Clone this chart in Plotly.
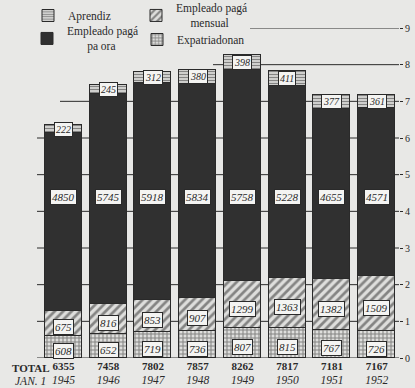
import plotly.graph_objects as go

# Employees by category on January 1 of each year (headcount)
years = ["1945", "1946", "1947", "1948", "1949", "1950", "1951", "1952"]
totals = [6355, 7458, 7802, 7857, 8262, 7817, 7181, 7167]
expatriadonan = [608, 652, 719, 736, 807, 815, 767, 726]
empleado_mensual = [675, 816, 853, 907, 1299, 1363, 1382, 1509]
empleado_pa_ora = [4850, 5745, 5918, 5834, 5758, 5228, 4655, 4571]
aprendiz = [222, 245, 312, 380, 398, 411, 377, 361]
axis_thousands = list(range(10))

BG = "#e8e8e6"
INK = "#2a2a2a"
LIGHT = "#dededc"
SERIF = "Liberation Serif"

W, H = 415, 388
M_L, M_R, M_T, M_B = 41, 16, 28, 30
PLOT_W = W - M_L - M_R
PLOT_H = H - M_T - M_B

xs = list(range(len(years)))
BAR_W = 0.83
HOURLY_LABEL_LEVEL = 4400
NB = "\u00a0"

def px_x(p):
    return (p - M_L) / PLOT_W

def px_y(p):
    return 1 + (M_T - p) / PLOT_H

fig = go.Figure()

# (name, values, pattern, legend id, legend box top-left in pixels)
series = [
    ("Expatriadonan", expatriadonan,
     dict(shape="+", size=4, solidity=0.45, fgcolor=INK, bgcolor=LIGHT),
     "legend4", (137, 25)),
    ("Empleado pagá<br>" + NB * 5 + "mensual", empleado_mensual,
     dict(shape="/", size=6, solidity=0.45, fgcolor=INK, bgcolor=LIGHT),
     "legend2", (136, -6)),
    ("Empleado pagá<br>" + NB * 7 + "pa ora", empleado_pa_ora, None,
     "legend3", (27, 17)),
    ("Aprendiz", aprendiz,
     dict(shape="-", size=3, solidity=0.45, fgcolor=INK, bgcolor=LIGHT),
     "legend", (28, 1)),
]

legend_layouts = {}
for name, vals, pattern, leg, (lx, ly) in series:
    marker = dict(color="#303030" if pattern is None else LIGHT,
                  line=dict(color=INK, width=1))
    if pattern is not None:
        marker["pattern"] = pattern
    fig.add_trace(go.Bar(
        x=xs, y=vals, name=name, width=BAR_W, marker=marker,
        legend=leg, hoverinfo="skip",
    ))
    legend_layouts[leg] = dict(
        x=px_x(lx), xanchor="left", y=px_y(ly), yanchor="top",
        bgcolor="rgba(0,0,0,0)", borderwidth=0,
        font=dict(family=SERIF, size=11.5, color=INK), valign="middle",
        itemclick=False, itemdoubleclick=False,
    )

# Value boxes on each segment
bottoms_month = expatriadonan
bottoms_appr = [a + b + c for a, b, c in zip(expatriadonan, empleado_mensual, empleado_pa_ora)]

box = dict(bgcolor="#f4f4f2", bordercolor=INK, borderwidth=1, borderpad=1,
           showarrow=False, font=dict(family=SERIF, size=11, color=INK, style="italic"))

for i in xs:
    fig.add_annotation(x=i, y=expatriadonan[i] / 2, yshift=-4,
                       text=str(expatriadonan[i]), **box)
    fig.add_annotation(x=i, y=bottoms_month[i] + empleado_mensual[i] / 2, yshift=-4,
                       text=str(empleado_mensual[i]), **box)
    fig.add_annotation(x=i, y=HOURLY_LABEL_LEVEL, text=str(empleado_pa_ora[i]), **box)
    fig.add_annotation(x=i, y=bottoms_appr[i] + aprendiz[i] / 2,
                       text=str(aprendiz[i]),
                       **{**box, "font": dict(family=SERIF, size=10, color=INK, style="italic")})

# Row captions beneath the axis
fig.add_annotation(xref="paper", yref="paper", x=px_x(10), y=px_y(368),
                   xanchor="left", yanchor="middle", showarrow=False,
                   text="<b>TOTAL</b>", font=dict(family=SERIF, size=11, color=INK))
fig.add_annotation(xref="paper", yref="paper", x=px_x(13), y=px_y(380.5),
                   xanchor="left", yanchor="middle", showarrow=False,
                   text="<i>JAN. 1</i>", font=dict(family=SERIF, size=11.5, color=INK))

# Horizontal rules at each thousand, the upper ones starting further right
def rule_start(level):
    if level >= 9:
        return px_x(250)
    if level == 8:
        return px_x(213)
    if level == 7:
        return px_x(60)
    return px_x(37)

for lv in axis_thousands:
    fig.add_shape(type="line", layer="below", xref="paper", yref="y",
                  x0=rule_start(lv), x1=1.0, y0=lv * 1000, y1=lv * 1000,
                  line=dict(color=INK, width=1))

ticktext = [f"<b>{t}</b><br><i><span style='font-size:11.5px'>{y}</span></i>"
            for t, y in zip(totals, years)]

fig.update_layout(
    width=W, height=H,
    margin=dict(l=M_L, r=M_R, t=M_T, b=M_B, pad=0, autoexpand=False),
    paper_bgcolor=BG, plot_bgcolor=BG,
    barmode="stack", bargap=0,
    font=dict(family=SERIF, color=INK, size=12),
    xaxis=dict(range=[-0.5, len(xs) - 0.5], tickvals=xs, ticktext=ticktext,
               showgrid=False, zeroline=False, showline=False, ticks="",
               automargin=False, ticklabelstandoff=0,
               tickfont=dict(family=SERIF, size=11, color=INK)),
    yaxis=dict(range=[0, 9000], side="right",
               tickvals=[v * 1000 for v in axis_thousands],
               ticktext=[str(v) for v in axis_thousands],
               showgrid=False, zeroline=False, showline=False, automargin=False,
               ticks="outside", ticklen=3, tickcolor=INK, tickwidth=1,
               tickfont=dict(family=SERIF, size=10, color=INK)),
    showlegend=True,
    **legend_layouts,
)

fig.write_html("out.html")
